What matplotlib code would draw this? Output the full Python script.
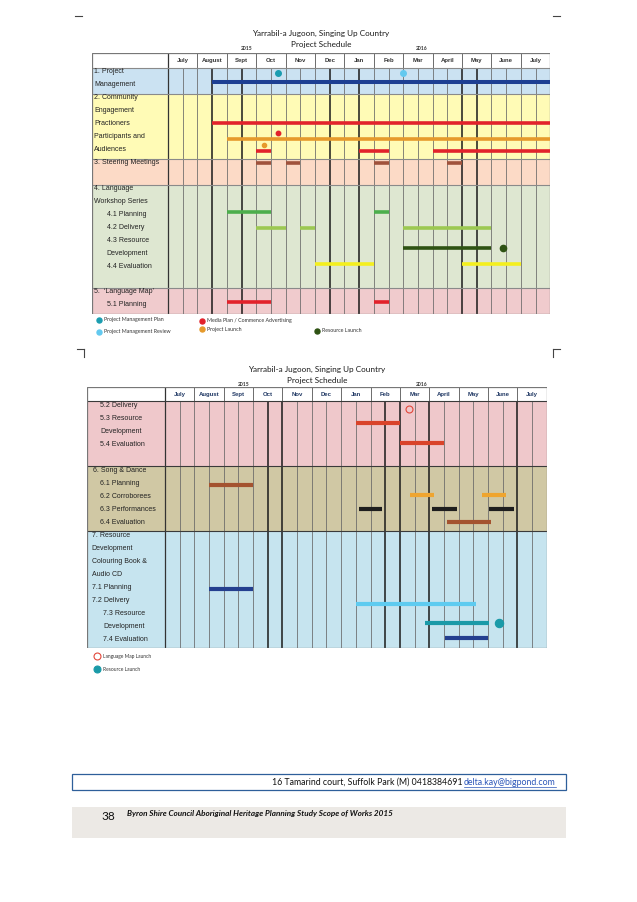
import matplotlib
matplotlib.use("Agg")
import matplotlib.pyplot as plt
from matplotlib.patches import Rectangle

PW, PH = 637, 902
months = ["July", "August", "Sept", "Oct", "Nov", "Dec", "Jan", "Feb", "Mar", "April", "May", "June", "July"]
years = ["2015", "2016"]
title = ["Yarrabil-a Jugoon, Singing Up Country", "Project Schedule"]

# ---- chart 1 data (months counted from start of July 2015) ----
labels1 = ["1. Project", "Management", "2. Community", "Engagement", "Practioners",
           "Participants and", "Audiences", "3. Steering Meetings", "", "4. Language",
           "Workshop Series", "4.1 Planning", "4.2 Delivery", "4.3 Resource", "Development",
           "4.4 Evaluation", "", "5.  \u2018Language Map\u2019", "5.1 Planning"]
tasks1 = ["pm", "practioners", "participants", "audiences", "steering",
          "planning41", "delivery42", "resource43", "eval44", "planning51"]
spans1 = [[(1.5, 13)], [(1.5, 13)], [(2.0, 13)],
          [(3.0, 3.5), (6.5, 7.5), (9.0, 13)],
          [(3.0, 3.5), (4.0, 4.5), (7.0, 7.5), (9.5, 10.0)],
          [(2.0, 3.5), (7.0, 7.5)],
          [(3.0, 4.0), (4.5, 5.0), (8.0, 11.0)],
          [(8.0, 11.0)],
          [(5.0, 7.0), (10.0, 12.0)],
          [(2.0, 3.5), (7.0, 7.5)]]
miles1 = [("pm_plan", 3.75), ("pm_review", 8.0), ("media", 3.75), ("launch", 3.25), ("res_launch", 11.4)]
legend1 = ["Project Management Plan", "Project Management Review", "Media Plan / Commence Advertising",
           "Project Launch", "Resource Launch"]

# ---- chart 2 data ----
labels2 = ["5.2 Delivery", "5.3 Resource", "Development", "5.4 Evaluation", "",
           "6. Song & Dance", "6.1 Planning", "6.2 Corroborees", "6.3 Performances", "6.4 Evaluation",
           "7. Resource", "Development", "Colouring Book &", "Audio CD", "7.1 Planning",
           "7.2 Delivery", "7.3 Resource", "Development", "7.4 Evaluation"]
tasks2 = ["resource53", "eval54", "planning61", "corroborees62", "perf63", "eval64",
          "planning71", "delivery72", "resource73", "eval74"]
spans2 = [[(6.5, 8.0)], [(8.0, 9.5)], [(1.5, 3.0)],
          [(8.35, 9.15), (10.8, 11.6)],
          [(6.6, 7.4), (9.1, 9.95), (11.05, 11.9)],
          [(9.6, 11.1)], [(1.5, 3.0)], [(6.5, 10.6)], [(8.85, 11.05)], [(9.55, 11.0)]]
miles2 = [("map_launch", 8.3), ("res_launch2", 11.38)]
legend2 = ["Language Map Launch", "Resource Launch"]

# ---------------- layout / style ----------------
row_y1 = {"pm": 1.06, "practioners": 4.27, "participants": 5.46, "audiences": 6.41, "steering": 7.36,
          "planning41": 11.12, "delivery42": 12.33, "resource43": 13.88, "eval44": 15.14, "planning51": 18.05}
col1 = {"pm": "#1d3f93", "practioners": "#e2222b", "participants": "#e69a2c", "audiences": "#e2222b",
        "steering": "#a0523c", "planning41": "#4cae4c", "delivery42": "#9cc852", "resource43": "#2e5213",
        "eval44": "#f4ef1e", "planning51": "#e2222b"}
ms1 = {"pm_plan": (0.36, "#1b9db0", 4.0), "pm_review": (0.36, "#63c9ef", 4.0), "media": (5.0, "#e2222b", 3.2),
       "launch": (5.95, "#e69a2c", 3.0), "res_launch": (13.88, "#2e5213", 4.5)}
row_y2 = {"resource53": 1.72, "eval54": 3.21, "planning61": 6.47, "corroborees62": 7.24, "perf63": 8.32,
          "eval64": 9.35, "planning71": 14.48, "delivery72": 15.64, "resource73": 17.13, "eval74": 18.24}
col2 = {"resource53": "#d9432a", "eval54": "#d9432a", "planning61": "#a4532f", "corroborees62": "#efa52f",
        "perf63": "#1e1e1e", "eval64": "#a4532f", "planning71": "#243f8f", "delivery72": "#5ecbf0",
        "resource73": "#1a9aa8", "eval74": "#243f8f"}
ms2 = {"map_launch": (0.64, "#e2473a", 5.0, "none"), "res_launch2": (17.13, "#1a9aa8", 6.0, "#1a9aa8")}

LABEL_FONT = ["Liberation Sans", "DejaVu Sans"]
DOC_FONT = ["Lato", "DejaVu Sans"]

fig = plt.figure(figsize=(PW / 100, PH / 100), dpi=100)

# page decorations
bg = fig.add_axes([0, 0, 1, 1], zorder=0)
bg.set_xlim(0, PW)
bg.set_ylim(PH, 0)
bg.axis("off")
for x0, x1, y0, y1 in [(75, 82, 15.5, 15.5), (553, 560, 15.5, 15.5),
                       (77, 84, 349, 349), (84, 84, 349, 357), (553, 560, 349, 349), (553, 553, 349, 357)]:
    bg.plot([x0, x1], [y0, y1], color="#444", lw=0.8)
bg.add_patch(Rectangle((72, 774), 494, 16, fill=False, ec="#2e5f9a", lw=0.9))
t1 = bg.text(462, 782.5, "16 Tamarind court, Suffolk Park (M) 0418384691", ha="right", va="center",
             fontsize=6.3, family=DOC_FONT, color="#111")
t2 = bg.text(464, 782.5, "delta.kay@bigpond.com", ha="left", va="center", fontsize=6.3,
             family=DOC_FONT, color="#2a55b8")
bg.add_patch(Rectangle((72, 806.5), 494, 31, fc="#ece9e5", ec="none"))
bg.text(108, 816, "38", ha="center", va="center", fontsize=8.5, family=DOC_FONT, color="#111")
bg.text(127, 813.5, "Byron Shire Council Aboriginal Heritage Planning Study Scope of Works 2015",
        ha="left", va="center", fontsize=5.9, family=DOC_FONT, weight="bold", style="italic", color="#111")


def gantt(table_left, label_right, month_w, head_top, head_bot, body_bot, sections, thick,
          head_color, hline_color, labels, indents, label_y0):
    nrow = 19
    lh = (body_bot - head_bot) / nrow
    L = (label_right - table_left) / month_w
    Hh = (head_bot - head_top) / lh
    right = label_right + 13 * month_w
    ax = fig.add_axes([table_left / PW, 1 - body_bot / PH, (right - table_left) / PW,
                       (body_bot - head_top) / PH], zorder=2)
    ax.set_xlim(-L, 13)
    ax.set_ylim(nrow, -Hh)
    ax.axis("off")
    ax.axhspan(-Hh, 0, color="white", zorder=0)
    for y0, y1, c in sections:
        ax.axhspan(y0, y1, color=c, zorder=0, lw=0)
    # grid
    for i in range(27):
        m = i / 2
        if m in thick:
            continue
        ax.vlines(m, 0, nrow, color="#666", lw=0.55, zorder=1)
    ax.vlines(thick, 0, nrow, color="#1a1a1a", lw=1.1, zorder=1)
    ax.vlines(range(14), -Hh, 0, color="#555", lw=0.6, zorder=1)
    ax.vlines(0, -Hh, nrow, color="#333", lw=0.9, zorder=1)
    for y0, y1, c in sections:
        ax.hlines(y0, -L, 13, color=hline_color, lw=0.8, zorder=1)
    ax.add_patch(Rectangle((-L, -Hh), L + 13, nrow + Hh, fill=False, ec="#777", lw=0.9, zorder=3))
    for i, mname in enumerate(months):
        ax.text(i + 0.5, -Hh / 2, mname, ha="center", va="center", fontsize=4.3, weight="bold",
                family=LABEL_FONT, color=head_color)
    for i, (lab, ind) in enumerate(zip(labels, indents)):
        ax.text(-L + ind, i + label_y0, lab, ha="left", va="center", fontsize=5.0,
                family=LABEL_FONT, color="#222")
    return ax, L


# ---------------- chart 1 ----------------
sections1 = [(0, 2, "#cbe2f2"), (2, 7, "#fffbb6"), (7, 9, "#fcdac6"), (9, 17, "#dee7d1"), (17, 19, "#f0cbcd")]
ind1 = [0.08] * 11 + [0.5] * 5 + [0.08, 0.08, 0.5]
ax1, L1 = gantt(92, 168, 29.4, 52.7, 68, 314, sections1, [1.5, 2.5, 5.5, 6.5, 10, 10.5],
                "#333", "#8a8a8a", labels1, ind1, 0.3)
for t, sp in zip(tasks1, spans1):
    for s, e in sp:
        ax1.hlines(row_y1[t], s, e, color=col1[t], lw=2.9 if t == "pm" else 2.6, zorder=4)
for k, m in miles1:
    y, c, sz = ms1[k]
    ax1.plot(m, y, "o", color=c, ms=sz, mec=c, zorder=5)
ax1.text(6.5 - L1 / 2, -2.7, title[0], ha="center", va="center", fontsize=5.9, family=DOC_FONT, color="#1a1a1a")
ax1.text(6.5 - L1 / 2, -1.85, title[1], ha="center", va="center", fontsize=5.9, family=DOC_FONT, color="#1a1a1a")
ax1.text(2.69, -1.54, years[0], ha="center", va="center", fontsize=3.6, weight="bold", family=DOC_FONT, color="#333")
ax1.text(8.64, -1.54, years[1], ha="center", va="center", fontsize=3.6, weight="bold", family=DOC_FONT, color="#333")
leg_pos1 = [(-2.34, 19.46), (-2.34, 20.36), (1.15, 19.52), (1.15, 20.18), (5.06, 20.31)]
leg_keys1 = ["pm_plan", "pm_review", "media", "launch", "res_launch"]
for (x, y), k, txt in zip(leg_pos1, leg_keys1, legend1):
    c = ms1[k][1]
    ax1.plot(x, y, "o", color=c, ms=3.6, clip_on=False, zorder=5)
    ax1.text(x + 0.17, y, txt, ha="left", va="center", fontsize=3.8, family=DOC_FONT, color="#333")

# ---------------- chart 2 ----------------
sections2 = [(0, 5, "#efc8cb"), (5, 10, "#d0c8a4"), (10, 19, "#c6e4ef")]
ind2 = [0.43, 0.43, 0.43, 0.43, 0.18, 0.18, 0.43, 0.43, 0.43, 0.43,
        0.15, 0.15, 0.15, 0.15, 0.15, 0.15, 0.55, 0.55, 0.55]
ax2, L2 = gantt(87.3, 165, 29.36, 387.3, 401, 647.7, sections2, [3.5, 4.0, 7.5, 8.0, 9.0, 12.0],
                "#203864", "#3a3a3a", labels2, ind2, 0.37)
for t, sp in zip(tasks2, spans2):
    for s, e in sp:
        ax2.hlines(row_y2[t], s, e, color=col2[t], lw=3.0, zorder=4)
for k, m in miles2:
    y, c, sz, fc = ms2[k]
    ax2.plot(m, y, "o", ms=sz, mec=c, mfc=fc, mew=0.8, zorder=5)
ax2.text(6.5 - L2 / 2, -2.44, title[0], ha="center", va="center", fontsize=5.9, family=DOC_FONT, color="#1a1a1a")
ax2.text(6.5 - L2 / 2, -1.56, title[1], ha="center", va="center", fontsize=5.9, family=DOC_FONT, color="#1a1a1a")
ax2.text(2.67, -1.29, years[0], ha="center", va="center", fontsize=3.6, weight="bold", family=DOC_FONT, color="#333")
ax2.text(8.74, -1.29, years[1], ha="center", va="center", fontsize=3.6, weight="bold", family=DOC_FONT, color="#333")
leg_pos2 = [(-2.31, 19.65), (-2.31, 20.67)]
for (x, y), k, txt in zip(leg_pos2, ["map_launch", "res_launch2"], legend2):
    _, c, sz, fc = ms2[k]
    ax2.plot(x, y, "o", ms=5.0, mec=c, mfc=fc, mew=0.8, clip_on=False, zorder=5)
    ax2.text(x + 0.2, y, txt, ha="left", va="center", fontsize=3.5, family=DOC_FONT, color="#333")

# underline the e-mail address
fig.canvas.draw()
bb = t2.get_window_extent().transformed(bg.transData.inverted())
bg.plot([bb.x0, bb.x1], [bb.y0 - 0.5, bb.y0 - 0.5], color="#2a55b8", lw=0.5)

fig.savefig("out.png", dpi=100)
